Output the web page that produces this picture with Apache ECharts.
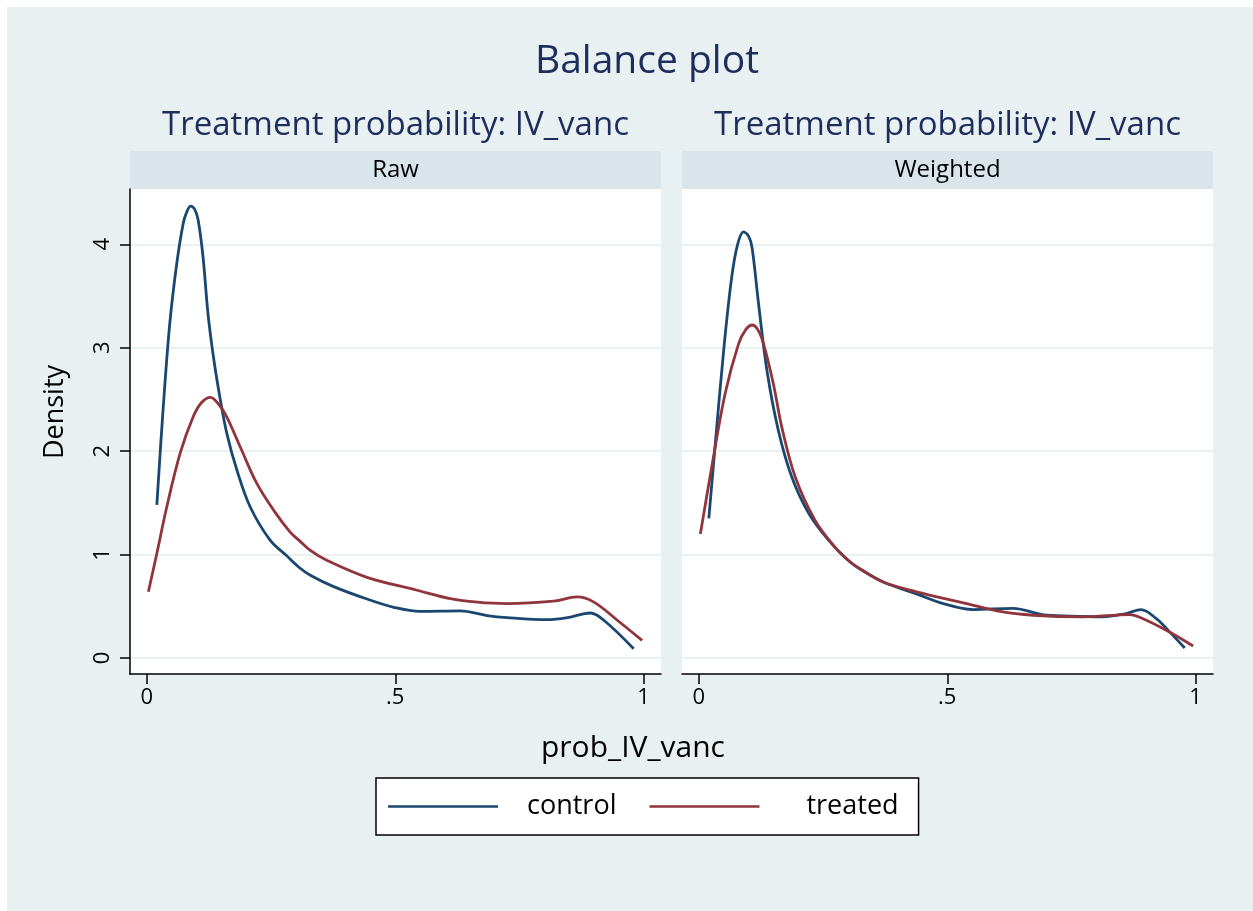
<!DOCTYPE html>
<html>
<head>
<meta charset="utf-8">
<script src="https://cdn.jsdelivr.net/npm/echarts@6/dist/echarts.min.js"></script>
<style>
  html, body { margin: 0; padding: 0; background: #ffffff; }
  #chart { width: 1253px; height: 911px; }
</style>
</head>
<body>
<div id="chart"></div>
<script>
// Kernel density estimates of the treatment probability, raw and weighted samples
const panels = ['Raw', 'Weighted'];
const seriesNames = ['control', 'treated'];
const xTickValues = [0, 0.5, 1];
const xTickLabels = ['0', '.5', '1'];
const yTickValues = [0, 1, 2, 3, 4];

const rawControl = [
  [0.020, 1.48], [0.033, 2.43], [0.046, 3.23], [0.060, 3.81], [0.073, 4.20],
  [0.080, 4.31], [0.088, 4.37], [0.096, 4.34], [0.103, 4.24], [0.113, 3.88],
  [0.123, 3.33], [0.134, 2.91], [0.147, 2.52], [0.161, 2.17], [0.181, 1.82],
  [0.208, 1.46], [0.248, 1.14], [0.281, 0.99], [0.308, 0.87], [0.329, 0.80],
  [0.376, 0.69], [0.443, 0.57], [0.497, 0.49], [0.550, 0.45], [0.631, 0.455],
  [0.685, 0.41], [0.725, 0.39], [0.806, 0.37], [0.847, 0.39], [0.893, 0.435],
  [0.920, 0.365], [0.980, 0.09]
];
const rawTreated = [
  [0.003, 0.64], [0.020, 1.01], [0.040, 1.46], [0.067, 1.98], [0.093, 2.33],
  [0.110, 2.47], [0.128, 2.52], [0.145, 2.45], [0.161, 2.33], [0.188, 2.04],
  [0.221, 1.69], [0.255, 1.43], [0.288, 1.22], [0.308, 1.13], [0.329, 1.04],
  [0.362, 0.945], [0.443, 0.78], [0.544, 0.655], [0.611, 0.574], [0.665, 0.54],
  [0.725, 0.526], [0.819, 0.55], [0.866, 0.59], [0.900, 0.54], [0.947, 0.365],
  [0.997, 0.17]
];
const weightedControl = [
  [0.020, 1.35], [0.033, 2.07], [0.050, 2.98], [0.066, 3.68], [0.078, 4.00],
  [0.090, 4.12], [0.100, 4.08], [0.107, 3.97], [0.120, 3.43], [0.137, 2.78],
  [0.160, 2.20], [0.187, 1.75], [0.221, 1.40], [0.261, 1.14], [0.304, 0.93],
  [0.328, 0.85], [0.371, 0.735], [0.438, 0.62], [0.492, 0.526], [0.552, 0.468],
  [0.632, 0.48], [0.700, 0.413], [0.773, 0.403], [0.813, 0.397], [0.860, 0.43],
  [0.890, 0.468], [0.921, 0.38], [0.948, 0.25], [0.978, 0.097]
];
const weightedTreated = [
  [0.003, 1.20], [0.026, 1.85], [0.053, 2.56], [0.080, 3.04], [0.095, 3.18],
  [0.107, 3.22], [0.118, 3.18], [0.130, 3.04], [0.150, 2.65], [0.167, 2.23],
  [0.194, 1.75], [0.234, 1.33], [0.274, 1.07], [0.304, 0.93], [0.328, 0.85],
  [0.371, 0.735], [0.438, 0.64], [0.539, 0.526], [0.606, 0.45], [0.673, 0.413],
  [0.773, 0.397], [0.867, 0.42], [0.894, 0.38], [0.941, 0.268], [0.995, 0.116]
];

const FONT = '"Open Sans", "Noto Sans", sans-serif';
const NAVY = '#1e2d5c';
const COLORS = { control: '#1a476f', treated: '#90353b' };
const BG = '#e8f0f2';
const STRIP = '#d9e5ea';
const GRIDLINE = '#eaf1f3';

const gridBoxes = [
  { left: 130, top: 189, width: 531, height: 485 },
  { left: 682, top: 189, width: 531, height: 485 }
];

const chart = echarts.init(document.getElementById('chart'), null, { renderer: 'canvas' });

function xAxisFor(i) {
  return {
    type: 'value', gridIndex: i, min: -0.034, max: 1.035,
    axisLine: { show: true, onZero: false, lineStyle: { color: '#000', width: 1.5 } },
    axisTick: { show: true, length: 10, customValues: xTickValues, lineStyle: { color: '#000', width: 1.5 } },
    axisLabel: {
      customValues: xTickValues, margin: 13, color: '#000', fontSize: 22, fontFamily: FONT,
      formatter: v => xTickLabels[xTickValues.indexOf(v)] ?? ''
    },
    splitLine: { show: false }
  };
}
function yAxisFor(i) {
  const main = i === 0;
  return {
    type: 'value', gridIndex: i, min: -0.155, max: 4.535,
    axisLine: { show: main, onZero: false, lineStyle: { color: '#000', width: 1.5 } },
    axisTick: { show: main, length: 10, customValues: yTickValues, lineStyle: { color: '#000', width: 1.5 } },
    axisLabel: {
      show: main, customValues: yTickValues, rotate: 90, margin: 16,
      color: '#000', fontSize: 22, fontFamily: FONT
    },
    splitLine: { show: true, lineStyle: { color: GRIDLINE, width: 2 } }
  };
}
function lineSeries(name, data, i) {
  return {
    name, type: 'line', xAxisIndex: i, yAxisIndex: i, data,
    smooth: 0.35, showSymbol: false, symbol: 'none',
    lineStyle: { color: COLORS[name], width: 2.8 },
    itemStyle: { color: COLORS[name] },
    silent: true, animation: false
  };
}

const graphics = [
  { type: 'rect', left: 7, top: 7, z: -10, shape: { width: 1246, height: 904 }, style: { fill: BG } },
  { type: 'text', x: 647, y: 62, style: { text: 'Balance plot', font: '39px ' + FONT, fill: NAVY, align: 'center', verticalAlign: 'middle' } },
  { type: 'text', x: 633, y: 748, style: { text: 'prob_IV_vanc', font: '30px ' + FONT, fill: '#000', align: 'center', verticalAlign: 'middle' } },
  { type: 'text', x: 55, y: 412, rotation: Math.PI / 2, style: { text: 'Density', font: '27px ' + FONT, fill: '#000', align: 'center', verticalAlign: 'middle' } }
];
panels.forEach((p, i) => {
  const g = gridBoxes[i];
  const cx = g.left + g.width / 2;
  graphics.push(
    { type: 'text', x: cx, y: 126, style: { text: 'Treatment probability: IV_vanc', font: '33px ' + FONT, fill: NAVY, align: 'center', verticalAlign: 'middle' } },
    { type: 'rect', shape: { x: g.left, y: 151, width: g.width, height: 38 }, style: { fill: STRIP } },
    { type: 'text', x: cx, y: 170, style: { text: p, font: '24px ' + FONT, fill: '#000', align: 'center', verticalAlign: 'middle' } }
  );
});

// equal-width legend columns: the second label sits further from its key
const legendTextPad = { control: 24, treated: 42 };

chart.setOption({
  animation: false,
  backgroundColor: '#ffffff',
  textStyle: { fontFamily: FONT },
  graphic: { elements: graphics },
  grid: gridBoxes.map(g => Object.assign({ show: true, backgroundColor: '#ffffff', borderWidth: 0 }, g)),
  xAxis: [xAxisFor(0), xAxisFor(1)],
  yAxis: [yAxisFor(0), yAxisFor(1)],
  legend: {
    data: seriesNames.map(n => ({ name: n, textStyle: { padding: [0, 0, 0, legendTextPad[n]] } })),
    left: 376, top: 778,
    orient: 'horizontal',
    backgroundColor: '#ffffff', borderColor: '#000', borderWidth: 1.5, borderRadius: 0,
    padding: [15, 20, 15, 12],
    itemWidth: 110, itemHeight: 24, itemGap: 33,
    icon: 'path://M0,11 L110,11 L110,13.5 L0,13.5 Z',
    textStyle: { color: '#000', fontSize: 27, fontFamily: FONT },
    selectedMode: false
  },
  series: [
    lineSeries('control', rawControl, 0),
    lineSeries('treated', rawTreated, 0),
    lineSeries('control', weightedControl, 1),
    lineSeries('treated', weightedTreated, 1)
  ]
});
</script>
</body>
</html>
